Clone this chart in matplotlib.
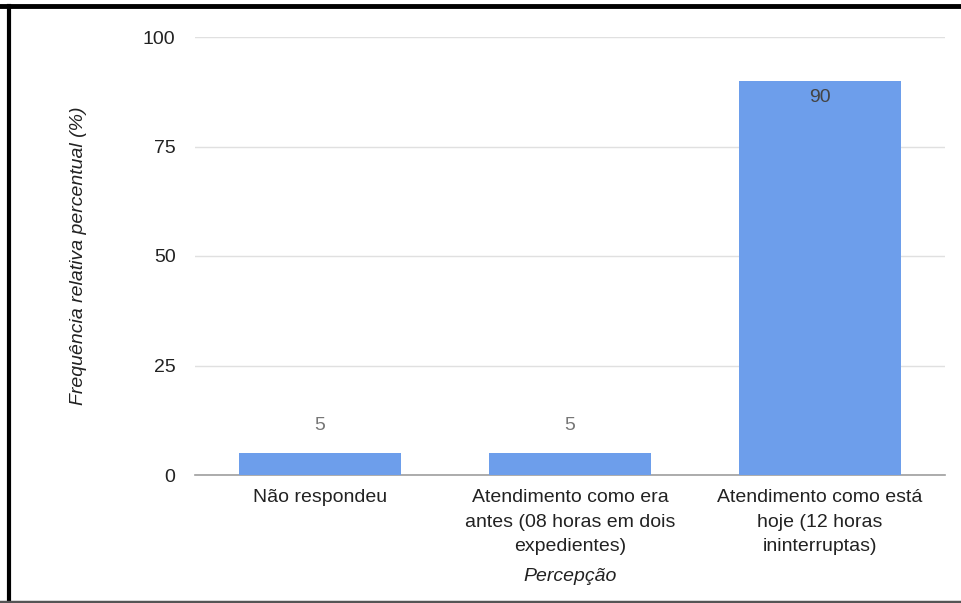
import matplotlib
matplotlib.use("Agg")
import matplotlib.pyplot as plt
from matplotlib.lines import Line2D

categories = ["Não respondeu",
              "Atendimento como era\nantes (08 horas em dois\nexpedientes)",
              "Atendimento como está\nhoje (12 horas\nininterruptas)"]
values = [5, 5, 90]
yticks = [0, 25, 50, 75, 100]
ylabel = "Frequência relativa percentual (%)"
xlabel = "Percepção"

plt.rcParams['font.family'] = ['Liberation Sans', 'DejaVu Sans']
FS = 14

fig = plt.figure(figsize=(9.61, 6.03), dpi=100)
ax = fig.add_axes([195/961, 1-475/603, 750/961, 438/603])

bar_color = "#6d9eeb"
x = list(range(len(categories)))
ax.bar(x, values, width=0.65, color=bar_color, zorder=3)
ax.set_xlim(-0.5, len(categories)-0.5)
ax.set_ylim(0, 100)
ax.set_yticks(yticks)
ax.set_yticklabels([str(t) for t in yticks])
ax.yaxis.grid(True, color="#e0e0e0", linewidth=1, zorder=0)
ax.set_axisbelow(True)
for s in ["top", "right", "left"]:
    ax.spines[s].set_visible(False)
ax.spines["bottom"].set_color("#9e9e9e")
ax.spines["bottom"].set_linewidth(1.2)
ax.tick_params(axis="both", length=0, labelsize=FS, colors="#222222")
ax.tick_params(axis="y", pad=14)
ax.tick_params(axis="x", pad=10)
ax.set_xticks(x)
ax.set_xticklabels(categories, linespacing=1.6)

for xi, v in zip(x, values):
    if v > 50:
        ax.text(xi, v - 1.9, str(v), ha="center", va="top", fontsize=FS, color="#444444")
    else:
        ax.text(xi, v + 6.4, str(v), ha="center", va="center", fontsize=FS, color="#777777")

ax.set_ylabel(ylabel, fontsize=FS, style="italic", color="#222222", labelpad=40)
ax.set_xlabel(xlabel, fontsize=FS, style="italic", color="#222222", labelpad=9)

# outer frame lines
fig.add_artist(Line2D([0, 1], [1-6/603, 1-6/603], color="black", linewidth=3.5, transform=fig.transFigure))
fig.add_artist(Line2D([8.5/961, 8.5/961], [0, 1-6/603], color="black", linewidth=3, transform=fig.transFigure))
fig.add_artist(Line2D([0, 1], [1.5/603, 1.5/603], color="#555555", linewidth=2.5, transform=fig.transFigure))

fig.savefig("out.png", dpi=100)
